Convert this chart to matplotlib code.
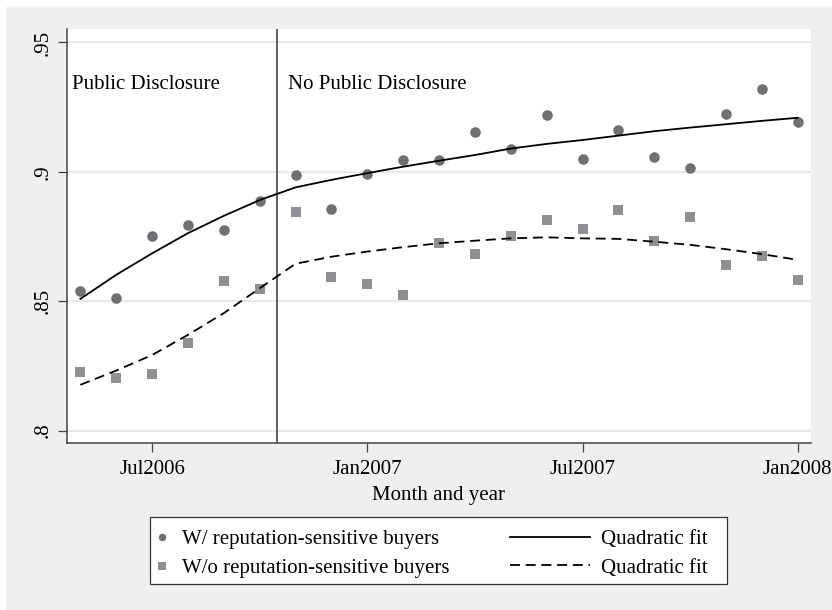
import numpy as np
import pandas as pd
import matplotlib
matplotlib.use("Agg")
import matplotlib.pyplot as plt
from matplotlib.lines import Line2D
from matplotlib.patches import Rectangle

# ---------------- data ----------------
months = pd.period_range("2006-05", "2008-01", freq="M")
tick_months = ["2006-07", "2007-01", "2007-07", "2008-01"]
tick_labels = ["Jul2006", "Jan2007", "Jul2007", "Jan2008"]
y_ticks = [0.80, 0.85, 0.90, 0.95]
y_tick_labels = [".8", ".85", ".9", ".95"]

with_rep = [0.8541, 0.8512, 0.8752, 0.8796, 0.8776, 0.8888, 0.8988, 0.8857,
            0.8991, 0.9045, 0.9045, 0.9155, 0.9090, 0.9221, 0.9049, 0.9163,
            0.9058, 0.9015, 0.9225, 0.9321, 0.9194]
without_rep = [0.8226, 0.8202, 0.8219, 0.8338, 0.8580, 0.8548, 0.8846, 0.8595,
               0.8567, 0.8524, 0.8724, 0.8683, 0.8754, 0.8814, 0.8779, 0.8852,
               0.8732, 0.8825, 0.8640, 0.8676, 0.8582]
fit_with = [0.8509, 0.8602, 0.8685, 0.8763, 0.8830, 0.8891, 0.8940, 0.8969,
            0.8995, 0.9020, 0.9043, 0.9065, 0.9090, 0.9108, 0.9123, 0.9140,
            0.9157, 0.9171, 0.9184, 0.9197, 0.9209]
fit_without = [0.8177, 0.8232, 0.8292, 0.8370, 0.8454, 0.8550, 0.8645, 0.8672,
               0.8692, 0.8709, 0.8724, 0.8734, 0.8743, 0.8747, 0.8743, 0.8741,
               0.8730, 0.8718, 0.8701, 0.8682, 0.8660]
break_month = 5.49  # between Oct 2006 and Nov 2006 (index from May 2006)

# ---------------- style ----------------
plt.rcParams["font.family"] = ["Liberation Serif", "DejaVu Serif"]
FS = 15
BG = "#EEEFF1"
AX = "#444444"
C_CIRC = "#6f7074"
C_SQ = "#8f9094"

W, H = 832, 610
fig = plt.figure(figsize=(W / 100, H / 100), dpi=100, facecolor="white")
# outer graph region (grey)
fig.add_artist(Rectangle((6 / W, 0), 1 - 6 / W, 1 - 7 / H, transform=fig.transFigure,
                         facecolor=BG, edgecolor="none", zorder=-10))

left, right, top, bottom = 66.7, 810.7, 29.0, 443.3
ax = fig.add_axes([left / W, 1 - bottom / H, (right - left) / W, (bottom - top) / H])
ax.set_facecolor("white")

x = np.arange(len(months))
pos = {str(m): i for i, m in enumerate(months)}

ax.scatter(x, with_rep, marker="o", s=7.6 ** 2, color=C_CIRC, linewidths=0, zorder=3)
ax.scatter(x, without_rep, marker="s", s=7.5 ** 2, color=C_SQ, linewidths=0, zorder=3)
ax.plot(x, fit_with, color="black", lw=1.3, zorder=4, solid_joinstyle="round")
ax.plot(x, fit_without, color="black", lw=1.3, dashes=(5.5, 3.2), zorder=4)
ax.axvline(break_month, color=AX, lw=1.2, zorder=2)

ax.set_xlim(-0.38, 20.36)
ax.set_ylim(0.7951, 0.9552)

ax.set_xticks([pos[m] for m in tick_months])
ax.set_xticklabels(tick_labels, fontsize=FS)
ax.set_yticks(y_ticks)
ax.set_yticklabels(y_tick_labels, fontsize=FS, rotation=90, va="center")
ax.tick_params(axis="both", direction="out", length=6.2, width=0.9, color=AX)
ax.tick_params(axis="x", pad=6)
ax.tick_params(axis="y", pad=4)
ax.grid(axis="y", color="#e6e6e6", lw=1.3, zorder=0)
ax.set_axisbelow(True)

for s in ["top", "right"]:
    ax.spines[s].set_visible(False)
for s in ["left", "bottom"]:
    ax.spines[s].set_color(AX)
    ax.spines[s].set_linewidth(1.1)

ax.set_xlabel("Month and year", fontsize=FS, labelpad=5)

ax.text(-0.24, 0.9320, "Public Disclosure", fontsize=FS, va="baseline", ha="left")
ax.text(5.78, 0.9320, "No Public Disclosure", fontsize=FS, va="baseline", ha="left")

# ---------------- legend (figure pixel coordinates) ----------------
def fx(px):
    return px / W

def fy(py):
    return 1 - py / H

fig.add_artist(Rectangle((fx(150), fy(584.3)), (727.3 - 150) / W, (584.3 - 516.7) / H,
                         transform=fig.transFigure, facecolor="white",
                         edgecolor="#333333", lw=0.9, zorder=5))
fig.add_artist(Line2D([fx(162)], [fy(536.5)], transform=fig.transFigure, marker="o",
                      markersize=5.4, color=C_CIRC, markeredgewidth=0, linestyle="none", zorder=6))
fig.add_artist(Line2D([fx(162)], [fy(566)], transform=fig.transFigure, marker="s",
                      markersize=5.4, color=C_SQ, markeredgewidth=0, linestyle="none", zorder=6))
fig.add_artist(Line2D([fx(510), fx(590)], [fy(536.5), fy(536.5)], transform=fig.transFigure,
                      color="black", lw=1.3, zorder=6))
fig.add_artist(Line2D([fx(510), fx(590)], [fy(565), fy(565)], transform=fig.transFigure,
                      color="black", lw=1.3, dashes=(5.5, 3.2), zorder=6))
fig.text(fx(182), fy(544), "W/ reputation-sensitive buyers", fontsize=FS, va="baseline", zorder=7)
fig.text(fx(182), fy(573), "W/o reputation-sensitive buyers", fontsize=FS, va="baseline", zorder=7)
fig.text(fx(601), fy(544), "Quadratic fit", fontsize=FS, va="baseline", zorder=7)
fig.text(fx(601), fy(573), "Quadratic fit", fontsize=FS, va="baseline", zorder=7)

fig.savefig("out.png", dpi=100, facecolor="white")
